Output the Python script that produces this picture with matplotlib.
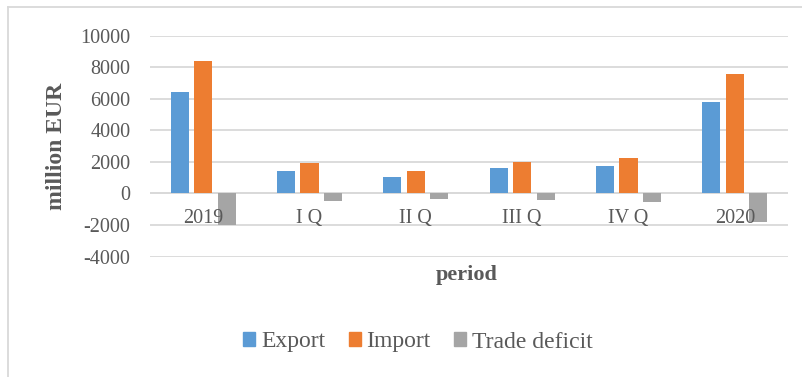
import matplotlib.pyplot as plt
import numpy as np
from matplotlib.lines import Line2D

periods = ["2019", "I Q", "II Q", "III Q", "IV Q", "2020"]
export = [6430, 1400, 1040, 1590, 1720, 5780]
imports = [8400, 1910, 1400, 1975, 2250, 7580]
trade_deficit = [-1990, -510, -380, -420, -530, -1800]
y_ticks = [-4000, -2000, 0, 2000, 4000, 6000, 8000, 10000]

series = [("Export", export, "#5b9bd5"),
          ("Import", imports, "#ed7d31"),
          ("Trade deficit", trade_deficit, "#a5a5a5")]

plt.rcParams["font.family"] = ["Liberation Serif", "DejaVu Serif"]
text_color = "#595959"
grid_color = "#d9d9d9"

W, H = 803, 377
fig = plt.figure(figsize=(W / 100, H / 100), dpi=100)
fig.patch.set_facecolor("white")

# plot area in pixel coordinates
x0, x1 = 150, 788
y_top, y_bot = 35.7, 256.5
ax = fig.add_axes([x0 / W, 1 - y_bot / H, (x1 - x0) / W, (y_bot - y_top) / H])

x = np.arange(len(periods))
width = 0.17
step = 0.22
for i, (name, vals, color) in enumerate(series):
    ax.bar(x + (i - 1) * step, vals, width=width, color=color, label=name, zorder=3)

ax.set_xlim(-0.5, len(periods) - 0.5)
ax.set_ylim(-4000, 10000)
ax.set_yticks(y_ticks)
ax.set_yticklabels([str(v) for v in y_ticks])
ax.grid(axis="y", color=grid_color, linewidth=1.3, zorder=0)
ax.axhline(0, color=grid_color, linewidth=1.3, zorder=2)
for s in ax.spines.values():
    s.set_visible(False)
ax.tick_params(axis="both", length=0, colors=text_color, labelsize=14.5)
ax.tick_params(axis="y", pad=14)
ax.set_xticks(x)
ax.set_xticklabels([])
for xi, lab in zip(x, periods):
    ax.text(xi, -1600, lab, ha="center", va="center", fontsize=14.5,
            color=text_color, zorder=4)

ax.set_ylabel("million EUR", fontsize=17, fontweight="bold", color=text_color,
              labelpad=10)
fig.text(467 / W, 1 - 275 / H, "period", ha="center", va="center",
         fontsize=16, fontweight="bold", color=text_color)

handles = [plt.Rectangle((0, 0), 1, 1, color=c) for _, _, c in series]
fig.legend(handles, [n for n, _, _ in series], loc="center",
           bbox_to_anchor=(418 / W, 1 - 342 / H), ncol=3, frameon=False,
           fontsize=17, labelcolor=text_color, handlelength=0.5,
           handleheight=0.5, handletextpad=0.25, columnspacing=1.0)

# chart border (left and top edges)
fig.add_artist(Line2D([8 / W, 8 / W], [0, 1 - 7 / H], transform=fig.transFigure,
                      color=grid_color, linewidth=1.3))
fig.add_artist(Line2D([8 / W, 1], [1 - 7 / H, 1 - 7 / H], transform=fig.transFigure,
                      color=grid_color, linewidth=1.3))

fig.savefig("out.png", dpi=100)
